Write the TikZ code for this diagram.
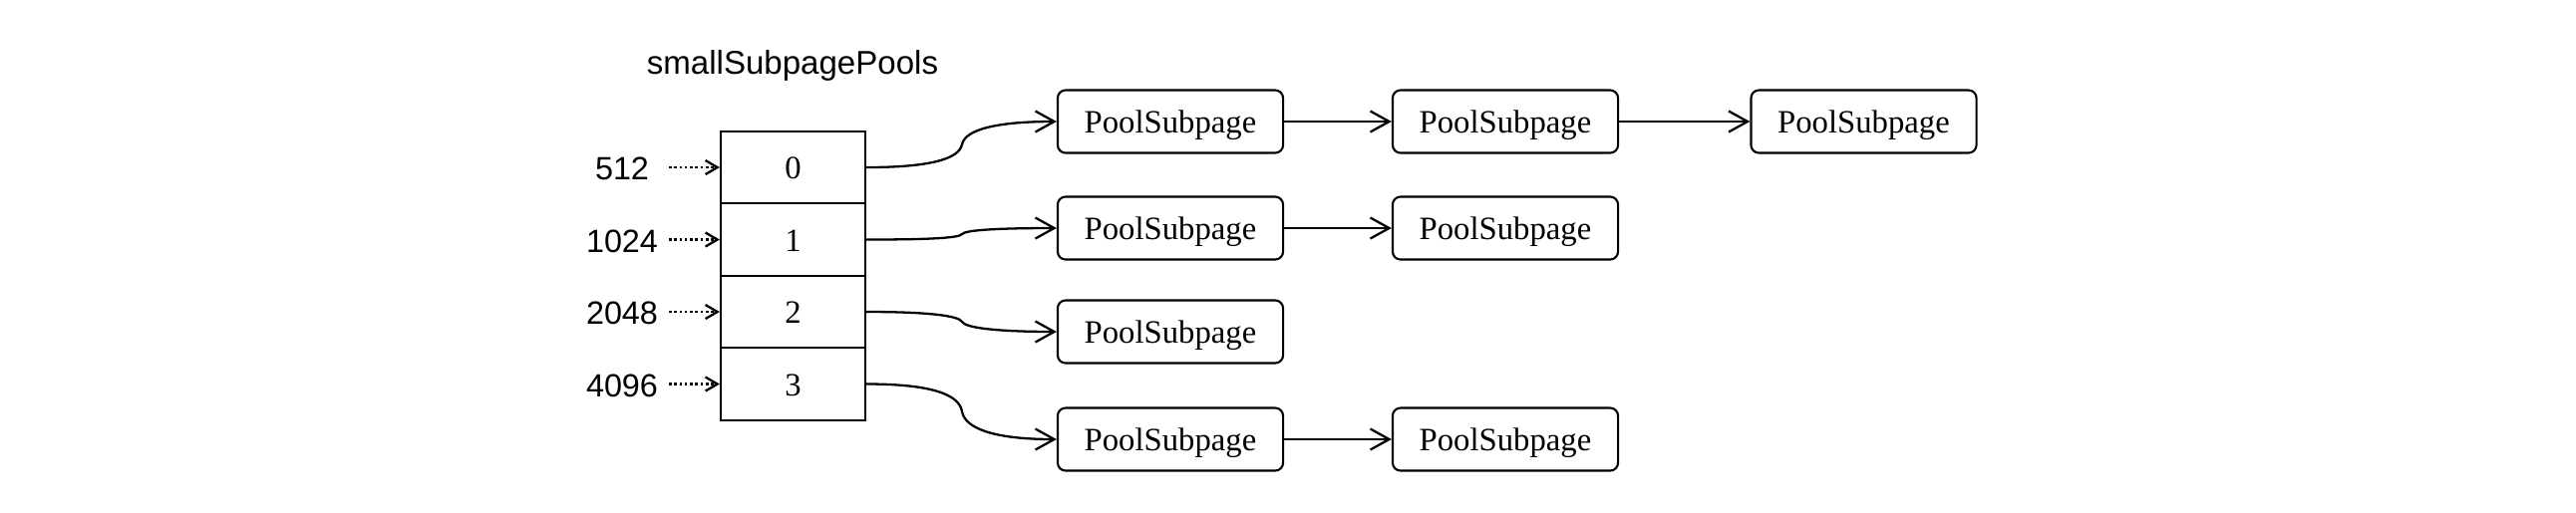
\documentclass[tikz,border=0pt]{standalone}
\usepackage{fontspec}
\setmainfont{Liberation Serif}
\setsansfont{Liberation Sans}
\usetikzlibrary{arrows.meta}
\begin{document}
\begin{tikzpicture}[x=0.01cm,y=-0.01cm,
  cell/.style={draw, line width=0.6pt, minimum width=1.45cm, minimum height=0.725cm, inner sep=0, text height=0.66em, text depth=0pt, font=\fontsize{9.3pt}{11pt}\selectfont},
  pool/.style={draw, rounded corners=0.08cm, line width=0.6pt, minimum width=2.26cm, minimum height=0.63cm, inner sep=0, text height=0.66em, text depth=0pt, font=\fontsize{9.3pt}{11pt}\selectfont},
  lbl/.style={font=\sffamily\fontsize{9.2pt}{11pt}\selectfont, inner sep=0, text height=0.72em, text depth=0pt},
  link/.style={line width=0.65pt, -{Straight Barb[length=0.19cm,width=0.21cm]}},
  dots/.style={line width=0.65pt, dash pattern=on 0.75pt off 0.75pt, -{Straight Barb[length=0.12cm,width=0.14cm]}}
]
\useasboundingbox (0,0) rectangle (2584,514);

% title
\node[lbl, font=\sffamily\fontsize{9.4pt}{11pt}\selectfont] (title) at (795,62) {smallSubpagePools};

% table cells
\node[cell] (c0) at (795.5,168) {0};
\node[cell] (c1) at (795.5,240.5) {1};
\node[cell] (c2) at (795.5,313) {2};
\node[cell] (c3) at (795.5,385.5) {3};

% size labels
\node[lbl] (l0) at (624,168) {512};
\node[lbl] (l1) at (624,240.5) {1024};
\node[lbl] (l2) at (624,313) {2048};
\node[lbl] (l3) at (624,385.5) {4096};

\coordinate (d0) at (671,168);
\coordinate (d1) at (671,240.5);
\coordinate (d2) at (671,313);
\coordinate (d3) at (671,385.5);
\draw[dots] (d0) -- (c0.west);
\draw[dots] (d1) -- (c1.west);
\draw[dots] (d2) -- (c2.west);
\draw[dots] (d3) -- (c3.west);

% pool subpages
\node[pool] (p00) at (1174,122) {PoolSubpage};
\node[pool] (p01) at (1510,122) {PoolSubpage};
\node[pool] (p02) at (1869.5,122) {PoolSubpage};
\node[pool] (p10) at (1174,229) {PoolSubpage};
\node[pool] (p11) at (1510,229) {PoolSubpage};
\node[pool] (p20) at (1174,333) {PoolSubpage};
\node[pool] (p30) at (1174,441) {PoolSubpage};
\node[pool] (p31) at (1510,441) {PoolSubpage};

% chain links
\draw[link] (p00.east) -- (p01.west);
\draw[link] (p01.east) -- (p02.west);
\draw[link] (p10.east) -- (p11.west);
\draw[link] (p30.east) -- (p31.west);

% curved connectors from table
\coordinate (m0) at (965,145);
\coordinate (m1) at (965,235);
\coordinate (m2) at (965,323);
\coordinate (m3) at (965,413);
\draw[link] (c0.east) .. controls +(62,0) and +(-3,15) .. (m0)
                      .. controls +(3,-15) and +(-60,0) .. (p00.west);
\draw[link] (c1.east) .. controls +(62,0) and +(-3,4) .. (m1)
                      .. controls +(3,-4) and +(-60,0) .. (p10.west);
\draw[link] (c2.east) .. controls +(62,0) and +(-3,-6) .. (m2)
                      .. controls +(3,6) and +(-60,0) .. (p20.west);
\draw[link] (c3.east) .. controls +(62,0) and +(-3,-18) .. (m3)
                      .. controls +(3,18) and +(-60,0) .. (p30.west);
\end{tikzpicture}
\end{document}
